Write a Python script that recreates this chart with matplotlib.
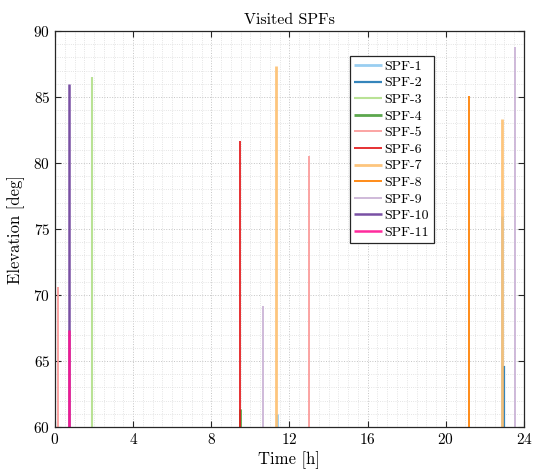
"""Visited SPFs: elevation peaks of each pass over the day."""

import matplotlib
matplotlib.use("Agg")
import matplotlib.pyplot as plt
from matplotlib.ticker import MultipleLocator

plt.rcParams["font.family"] = "serif"
plt.rcParams["font.serif"] = ["cmr10", "DejaVu Serif"]
plt.rcParams["mathtext.fontset"] = "cm"
plt.rcParams["axes.formatter.use_mathtext"] = True

# SPF names, pass times [h] and peak elevations [deg]
spf_names = ["SPF-%d" % i for i in range(1, 12)]
pass_times = [
    [11.34, 22.86],
    [22.96],
    [1.89],
    [9.45],
    [0.14, 13.02],
    [9.45],
    [11.31, 22.86],
    [21.20],
    [10.66, 23.54],
    [0.72],
    [0.72],
]
peak_elev = [
    [61.0, 76.0],
    [64.6],
    [86.5],
    [61.4],
    [70.6, 80.5],
    [81.7],
    [87.35, 83.3],
    [85.1],
    [69.15, 88.8],
    [86.0],
    [67.35],
]
colors = ["#8ec9f0", "#1f78b4", "#b2df8a", "#4a9e3a", "#fb9a99", "#e31a1c",
          "#fdbf6f", "#ff7f00", "#cab2d6", "#6a3d9a", "#ff1493"]
widths = [2.0, 1.6, 1.5, 2.0, 1.4, 1.4, 2.0, 1.4, 1.4, 1.8, 1.8]

fig = plt.figure(figsize=(5.38, 4.71), dpi=100)
ax = fig.add_axes([0.1022, 0.0934, 0.8718, 0.8408])

for name, t, e, c, w in zip(spf_names, pass_times, peak_elev, colors, widths):
    ax.vlines(t, 60, e, colors=c, linewidth=w, alpha=0.9, label=name)

ax.set_xlim(0, 24)
ax.set_ylim(60, 90)
ax.xaxis.set_major_locator(MultipleLocator(4))
ax.xaxis.set_minor_locator(MultipleLocator(0.5))
ax.yaxis.set_major_locator(MultipleLocator(5))
ax.yaxis.set_minor_locator(MultipleLocator(1))

ax.grid(which="major", linestyle=":", color="#c4c4c4", linewidth=0.7)
ax.grid(which="minor", linestyle=":", color="#dcdcdc", linewidth=0.6)
ax.set_axisbelow(True)

ax.tick_params(which="both", direction="in", top=True, right=True,
               labelsize=11, color="#262626")
ax.tick_params(which="major", length=4)
ax.tick_params(which="minor", length=0)
for s in ax.spines.values():
    s.set_color("#262626")
    s.set_linewidth(0.9)

ax.set_title("Visited SPFs", fontsize=11.5, pad=5)
ax.set_xlabel("Time [h]", fontsize=12, labelpad=3)
ax.set_ylabel("Elevation [deg]", fontsize=12, labelpad=6)

leg = ax.legend(loc="upper left", bbox_to_anchor=(0.629, 0.937), fontsize=10,
                fancybox=False, framealpha=1, edgecolor="#262626",
                handlelength=2.0, labelspacing=0.28, borderpad=0.3,
                handletextpad=0.2, borderaxespad=0)
leg.get_frame().set_linewidth(0.9)

fig.savefig("out.png", dpi=100)
